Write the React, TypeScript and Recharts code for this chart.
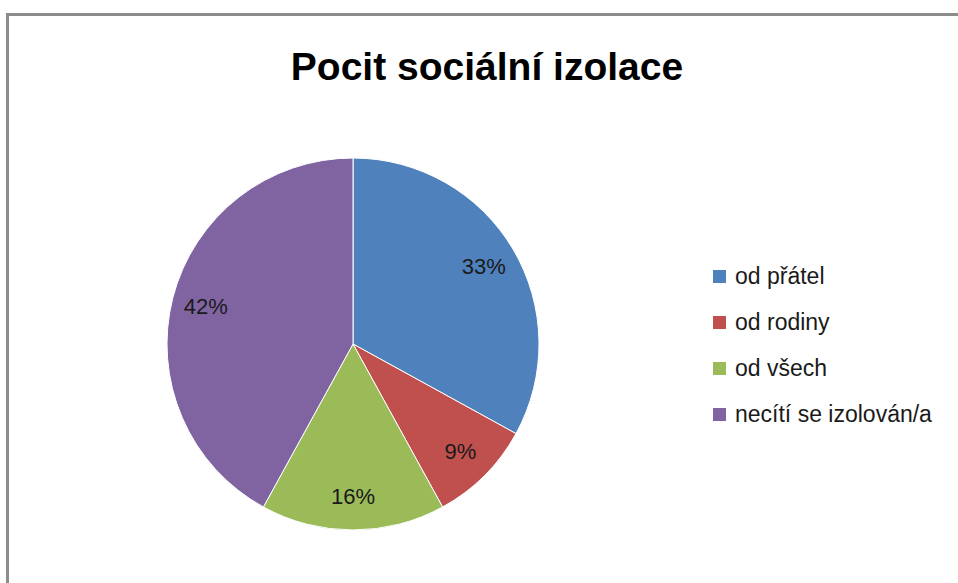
import React from 'react';
import { Cell, Legend, Pie, PieChart } from 'recharts';

const categories = ['od přátel', 'od rodiny', 'od všech', 'necítí se izolován/a'];
const shares = [33, 9, 16, 42];
const colors = ['#4F81BD', '#C0504D', '#9BBB59', '#8064A2'];

const data = categories.map((name, i) => ({ name, value: shares[i] }));

const FONT = '"Liberation Sans", Arial, sans-serif';
const RADIAN = Math.PI / 180;

const renderLabel = (props: any) => {
  const { cx, cy, midAngle, percent } = props;
  const r = 152;
  const x = cx + r * Math.cos(-midAngle * RADIAN);
  const y = cy + r * Math.sin(-midAngle * RADIAN);
  return (
    <text
      x={x}
      y={y}
      fill="#1a1a1a"
      textAnchor="middle"
      dominantBaseline="central"
      fontSize={22}
      fontFamily={FONT}
    >
      {`${Math.round(percent * 100)}%`}
    </text>
  );
};

// keep the legend in data order (Recharts would sort it by name)
const renderLegend = () => (
  <div style={{ fontFamily: FONT, fontSize: 23, color: '#1a1a1a' }}>
    {categories.map((name, i) => (
      <div key={name} style={{ display: 'flex', alignItems: 'center', height: 46 }}>
        <span
          style={{
            display: 'inline-block',
            width: 13,
            height: 13,
            background: colors[i],
            marginRight: 9,
          }}
        />
        <span>{name}</span>
      </div>
    ))}
  </div>
);

export default function App() {
  return (
    <div
      style={{
        position: 'absolute',
        left: 0,
        top: 0,
        width: 958,
        height: 583,
        overflow: 'hidden',
        background: '#fff',
      }}
    >
      <div
        style={{
          position: 'absolute',
          left: 6,
          top: 13,
          width: 1000,
          height: 1000,
          borderLeft: '3px solid #8c8c8c',
          borderTop: '3px solid #8c8c8c',
        }}
      />
      <div
        style={{
          position: 'absolute',
          left: 0,
          top: 48,
          width: 974,
          textAlign: 'center',
          fontFamily: FONT,
          fontWeight: 'bold',
          fontSize: 39,
          lineHeight: '38px',
          color: '#000',
        }}
      >
        Pocit sociální izolace
      </div>
      <PieChart
        width={958}
        height={583}
        margin={{ top: 0, right: 0, bottom: 0, left: 0 }}
        style={{ position: 'absolute', left: 0, top: 0 }}
      >
        <Pie
          data={data}
          dataKey="value"
          nameKey="name"
          cx={353}
          cy={344}
          outerRadius={186}
          startAngle={90}
          endAngle={-270}
          stroke="#ffffff"
          strokeWidth={1}
          label={renderLabel}
          labelLine={false}
          isAnimationActive={false}
        >
          {data.map((d, i) => (
            <Cell key={d.name} fill={colors[i]} />
          ))}
        </Pie>
        <Legend
          layout="vertical"
          content={renderLegend}
          wrapperStyle={{ position: 'absolute', left: 713, top: 253, width: 240 }}
        />
      </PieChart>
    </div>
  );
}
